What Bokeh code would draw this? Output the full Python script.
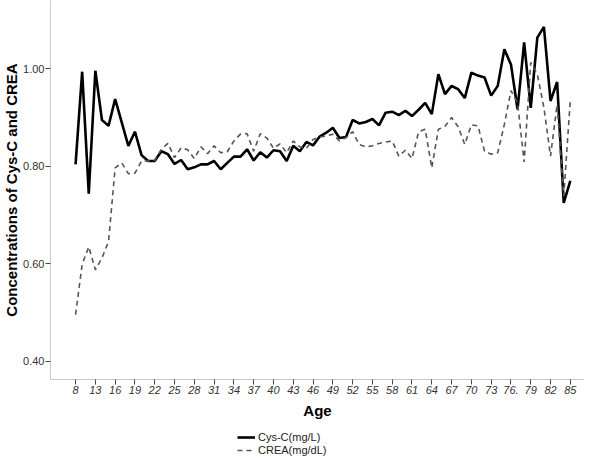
from bokeh.plotting import figure
from bokeh.layouts import column
from bokeh.models import FixedTicker, NumeralTickFormatter, Range1d, Legend, LegendItem, ColumnDataSource
from bokeh.embed import file_html
from bokeh.resources import INLINE

# Age categories (x axis is categorical: one slot per age group)
ages = ["8", "10", "12"] + [str(a) for a in range(13, 86)]

# Tick labels shown on the axis (every third category)
tick_labels = ["8", "13", "16", "19", "22", "25", "28", "31", "34", "37", "40", "43", "46",
               "49", "52", "55", "58", "61", "64", "67", "70", "73", "76.", "79", "82", "85"]

cys_c = [0.804, 0.994, 0.744, 0.996, 0.895, 0.883, 0.938, 0.890, 0.842, 0.871,
         0.823, 0.811, 0.811, 0.831, 0.825, 0.805, 0.813, 0.794, 0.798, 0.804,
         0.804, 0.811, 0.794, 0.807, 0.820, 0.820, 0.835, 0.812, 0.829, 0.818,
         0.833, 0.831, 0.811, 0.842, 0.831, 0.850, 0.843, 0.861, 0.869, 0.879,
         0.858, 0.860, 0.895, 0.888, 0.891, 0.897, 0.884, 0.910, 0.912, 0.905,
         0.914, 0.903, 0.916, 0.930, 0.907, 0.989, 0.948, 0.965, 0.958, 0.940,
         0.992, 0.986, 0.982, 0.945, 0.965, 1.040, 1.009, 0.917, 1.054, 0.920,
         1.064, 1.086, 0.934, 0.973, 0.725, 0.770]

crea = [0.496, 0.599, 0.635, 0.588, 0.612, 0.646, 0.797, 0.807, 0.785, 0.786,
        0.811, 0.811, 0.812, 0.835, 0.847, 0.818, 0.838, 0.834, 0.816, 0.840,
        0.826, 0.842, 0.828, 0.830, 0.852, 0.866, 0.867, 0.831, 0.867, 0.858,
        0.837, 0.846, 0.828, 0.852, 0.840, 0.837, 0.855, 0.860, 0.862, 0.866,
        0.852, 0.859, 0.871, 0.845, 0.840, 0.842, 0.847, 0.850, 0.852, 0.821,
        0.833, 0.816, 0.871, 0.876, 0.797, 0.876, 0.882, 0.900, 0.881, 0.845,
        0.885, 0.883, 0.831, 0.825, 0.828, 0.886, 0.955, 0.931, 0.809, 1.013,
        0.989, 0.920, 0.821, 0.927, 0.739, 0.936]

y_ticks = [0.40, 0.60, 0.80, 1.00]

FONT = "Liberation Sans"
CYS_STYLE = dict(line_color="black", line_width=2.6)
CREA_STYLE = dict(line_color="#555555", line_width=1.6, line_dash="5 4")

xpos = list(range(len(ages)))
src = ColumnDataSource(dict(x=xpos, age=ages, cys=cys_c, crea=crea))

p = figure(width=584, height=421, output_backend="svg", toolbar_location=None,
           x_range=Range1d(-3.8, 77.15), y_range=Range1d(0.363, 1.140),
           min_border_top=0, min_border_right=0, min_border_left=10,
           min_border_bottom=10, title=None)
p.grid.visible = False
p.outline_line_color = None
p.background_fill_color = "white"

p.line("x", "cys", source=src, **CYS_STYLE)
p.line("x", "crea", source=src, **CREA_STYLE)

tick_pos = [i for i in range(0, len(ages), 3)]
p.xaxis.ticker = FixedTicker(ticks=tick_pos)
p.xaxis.major_label_overrides = {i: lab for i, lab in zip(tick_pos, tick_labels)}
p.xaxis.axis_label = "Age"

p.yaxis.ticker = FixedTicker(ticks=y_ticks)
p.yaxis.formatter = NumeralTickFormatter(format="0.00")
p.yaxis.axis_label = "Concentrations of Cys-C and CREA"

for ax in (p.xaxis[0], p.yaxis[0]):
    ax.axis_line_color = "#c8c8c8"
    ax.axis_line_width = 1
    ax.major_tick_line_color = "#444444"
    ax.major_tick_in = 0
    ax.major_tick_out = 5
    ax.minor_tick_line_color = None
    ax.major_label_text_font = FONT
    ax.major_label_text_font_size = "11px"
    ax.major_label_text_color = "#333333"
    ax.axis_label_text_font = FONT
    ax.axis_label_text_font_size = "15px"
    ax.axis_label_text_font_style = "bold"
    ax.axis_label_text_color = "black"

p.xaxis.major_label_text_font_style = "italic"
p.xaxis.major_label_standoff = 1
p.xaxis.axis_label_standoff = 5
p.yaxis.major_label_standoff = 1
p.yaxis.axis_label_standoff = 0

# Legend strip under the chart
p2 = figure(width=584, height=35, output_backend="svg", toolbar_location=None,
            x_range=Range1d(0, 1), y_range=Range1d(100, 101),
            x_axis_location=None, y_axis_location=None,
            min_border=0, title=None)
p2.grid.visible = False
p2.outline_line_color = None
r_cys = p2.line("x", "cys", source=src, **CYS_STYLE)
r_crea = p2.line("x", "crea", source=src, **CREA_STYLE)

legend = Legend(items=[LegendItem(label="Cys-C(mg/L)", renderers=[r_cys]),
                       LegendItem(label="CREA(mg/dL)", renderers=[r_crea])],
                orientation="vertical", location=(187, 0))
legend.border_line_color = None
legend.background_fill_alpha = 0
legend.label_text_font = FONT
legend.label_text_font_size = "11px"
legend.label_text_color = "#222222"
legend.glyph_width = 18
legend.glyph_height = 12
legend.label_height = 12
legend.spacing = 1
legend.padding = 1
legend.margin = 0
legend.label_standoff = 3
p2.add_layout(legend, "center")

layout = column(p, p2, spacing=0)
open("out.html", "w").write(file_html(layout, INLINE))
